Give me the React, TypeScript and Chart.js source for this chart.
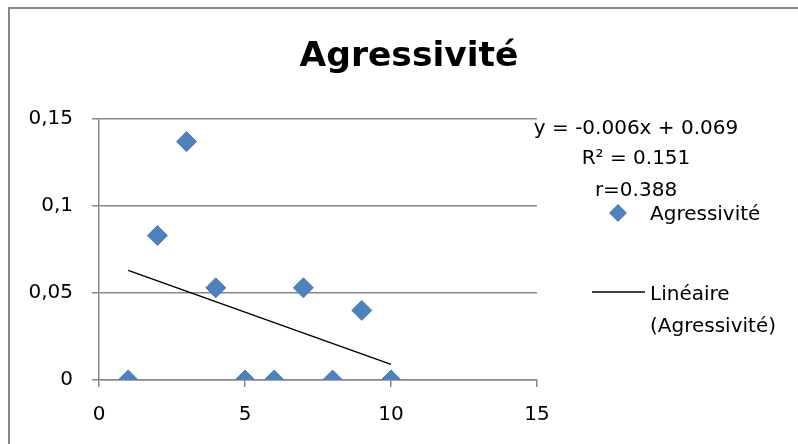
import React, { useEffect, useRef } from 'react';
import { Chart, registerables } from 'chart.js';

Chart.register(...registerables);

// ---- data ----
const xValues = [1, 2, 3, 4, 5, 6, 7, 8, 9, 10];
const yValues = [0, 0.083, 0.137, 0.053, 0, 0, 0.053, 0, 0.04, 0];
const trendX = [1, 10];
const trendY = [0.063, 0.009];
const xTickLabels = ['0', '5', '10', '15'];
const yTickLabels = ['0', '0,05', '0,1', '0,15'];
const titleText = 'Agressivité';
const equationLines = ['y = -0.006x + 0.069', 'R² = 0.151', 'r=0.388'];
const seriesName = 'Agressivité';
const trendNameLines = ['Linéaire', '(Agressivité)'];

const FONT = '"DejaVu Sans", "Noto Sans", sans-serif';
const GRAY = '#878787';
const BLUE = '#4F81BD';

const decorPlugin = {
  id: 'decor',
  afterDraw(chart: any) {
    const ctx = chart.ctx as CanvasRenderingContext2D;
    ctx.save();
    // outer frame
    ctx.strokeStyle = GRAY;
    ctx.lineWidth = 2;
    ctx.beginPath();
    ctx.moveTo(9, 444);
    ctx.lineTo(9, 8);
    ctx.lineTo(798, 8);
    ctx.stroke();

    // title
    ctx.fillStyle = '#000';
    ctx.font = `bold 34.5px ${FONT}`;
    ctx.textAlign = 'center';
    ctx.textBaseline = 'alphabetic';
    ctx.fillText(titleText, 409, 66);

    // trendline equation
    ctx.font = `20px ${FONT}`;
    const eqBase = [134, 164, 196];
    equationLines.forEach((t, i) => ctx.fillText(t, 636, eqBase[i]));

    // legend
    ctx.textAlign = 'left';
    ctx.fillStyle = BLUE;
    ctx.beginPath();
    const cx = 618, cy = 213, r = 9;
    ctx.moveTo(cx - r, cy);
    ctx.lineTo(cx, cy - r);
    ctx.lineTo(cx + r, cy);
    ctx.lineTo(cx, cy + r);
    ctx.closePath();
    ctx.fill();
    ctx.fillStyle = '#000';
    ctx.fillText(seriesName, 650, 220);

    ctx.strokeStyle = '#000';
    ctx.lineWidth = 1.5;
    ctx.beginPath();
    ctx.moveTo(592, 292);
    ctx.lineTo(645, 292);
    ctx.stroke();
    ctx.fillText(trendNameLines[0], 650, 300);
    ctx.fillText(trendNameLines[1], 650, 332);
    ctx.restore();
  },
};

export default function App() {
  const ref = useRef<HTMLCanvasElement>(null);
  useEffect(() => {
    document.body.style.margin = '0';
    const canvas = ref.current!;
    const chart = new Chart(canvas, {
      type: 'scatter',
      data: {
        datasets: [
          {
            type: 'line',
            label: trendNameLines.join(' '),
            data: trendX.map((x, i) => ({ x, y: trendY[i] })),
            borderColor: '#000',
            borderWidth: 1.5,
            pointRadius: 0,
            showLine: true,
            fill: false,
          } as any,
          {
            label: seriesName,
            data: xValues.map((x, i) => ({ x, y: yValues[i] })),
            pointStyle: 'rectRot',
            pointRadius: 10,
            pointHoverRadius: 10,
            backgroundColor: BLUE,
            borderColor: '#4A7EBB',
            borderWidth: 1,
          },
        ],
      },
      options: {
        animation: false,
        responsive: false,
        events: [],
        layout: { padding: { left: 0, top: 119, right: 261, bottom: 0 } },
        plugins: {
          legend: { display: false },
          title: { display: false },
          tooltip: { enabled: false },
        },
        scales: {
          x: {
            type: 'linear',
            min: 0,
            max: 15,
            afterFit(scale: any) {
              scale.height = 64;
              scale.paddingLeft = 0;
              scale.paddingRight = 0;
            },
            ticks: {
              stepSize: 5,
              color: '#000',
              font: { family: FONT, size: 20 },
              padding: 16,
              maxRotation: 0,
              callback: (_v: any, i: number) => xTickLabels[i],
            },
            grid: {
              drawOnChartArea: false,
              drawTicks: true,
              tickLength: 7,
              color: GRAY,
              lineWidth: 1.5,
            },
            border: { display: true, color: GRAY, width: 1.5 },
          },
          y: {
            type: 'linear',
            min: 0,
            max: 0.15,
            afterFit(scale: any) {
              scale.width = 99;
              scale.paddingTop = 0;
              scale.paddingBottom = 0;
            },
            ticks: {
              stepSize: 0.05,
              color: '#000',
              font: { family: FONT, size: 20 },
              padding: 19,
              callback: (_v: any, i: number) => yTickLabels[i],
            },
            grid: {
              drawOnChartArea: true,
              drawTicks: true,
              tickLength: 7,
              color: GRAY,
              lineWidth: 1.5,
            },
            border: { display: true, color: GRAY, width: 1.5 },
          },
        },
      },
      plugins: [decorPlugin],
    });
    return () => chart.destroy();
  }, []);
  return (
    <div style={{ width: 798, height: 444, background: '#fff' }}>
      <canvas ref={ref} width={798} height={444} style={{ display: 'block' }} />
    </div>
  );
}
